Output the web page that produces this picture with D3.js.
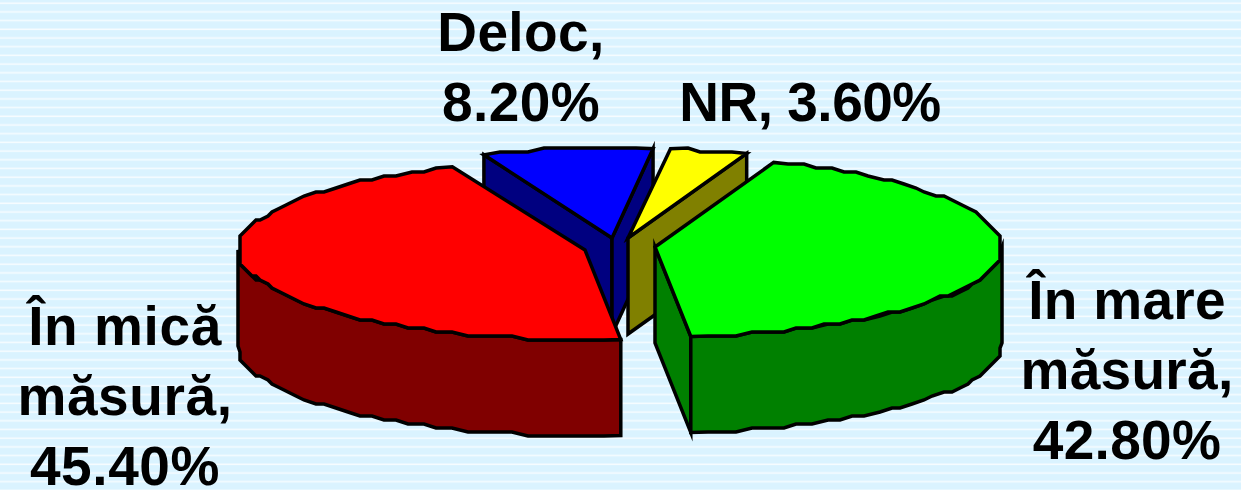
<!DOCTYPE html>
<html><head><meta charset="utf-8">
<style>html,body{margin:0;padding:0;background:#DAF3FF;overflow:hidden}svg{display:block}</style>
<script src="https://cdn.jsdelivr.net/npm/d3@7"></script>
</head><body><svg id="c" width="1241" height="490"></svg>
<script>
const categories = ["În mare măsură", "În mică măsură", "Deloc", "NR"];
const values = [42.8, 45.4, 8.2, 3.6];
const topColors = ["#00FF00", "#FF0000", "#0000FF", "#FFFF00"];
const wallColors = ["#008000", "#800000", "#000080", "#808000"];
const sliceCentres = [[655, 247], [585, 250], [612, 238], [628, 238]];
const sliceRadiusX = [347, 347, 335, 347];
const labelLines = [
  [["În mare"], ["măsură,"], [0]],
  [["În mică"], ["măsură,"], [1]],
  [["Deloc,"], [2]],
  [["NR, ", 3]]
];
const labelPos = [[1127, 319], [125, 345], [521, 51], [810, 121]];
const labelSpacing = [0.3, 0.6, 0.4, -0.5];

const W = 1241, H = 490, RY = 90, DEPTH = 96, GRID = 4;
const svg = d3.select("#c");

// background stripes
const defs = svg.append("defs");
const pat = defs.append("pattern").attr("id", "stripes").attr("patternUnits", "userSpaceOnUse")
  .attr("width", 8).attr("height", 8.7);
pat.append("rect").attr("width", 8).attr("height", 8.7).attr("fill", "#DAF3FF");
pat.append("rect").attr("y", 2.4).attr("width", 8).attr("height", 1.6).attr("fill", "#F6FCFF");
svg.append("rect").attr("width", W).attr("height", H).attr("fill", "url(#stripes)");

// layout via d3.pie, clockwise from 20 degrees past the top
const start = 20 * Math.PI / 180;
const arcs = d3.pie().sort(null).startAngle(start).endAngle(start + 2 * Math.PI)(values);
const sy = d3.scaleLinear().domain([-1, 1]).range([-RY, RY]);
const line = d3.line();
const snap = v => Math.round(v / GRID) * GRID;
const pt = (i, a, d = 0) => {
  const c = sliceCentres[i];
  const sx = d3.scaleLinear().domain([-1, 1]).range([-sliceRadiusX[i], sliceRadiusX[i]]);
  return [c[0] + sx(Math.sin(a)), c[1] - sy(Math.cos(a)) + d];
};
const rough = p => [snap(p[0]), snap(p[1])];
const samples = (a0, a1) => {
  const n = Math.max(2, Math.round(Math.abs(a1 - a0) / (2.6 * Math.PI / 180)));
  return d3.range(0, n + 1).map(k => a0 + (a1 - a0) * k / n);
};
// keep exact corners, roughen only interior arc samples
const arcPts = (i, a0, a1, d = 0) => samples(a0, a1).map((a, k, s) =>
  (k === 0 || k === s.length - 1) ? pt(i, a, d) : rough(pt(i, a, d)));
const draw = (pts, fill) => svg.append("path")
  .attr("d", line(pts) + "Z").attr("fill", fill).attr("stroke", "#000")
  .attr("stroke-width", 3.5).attr("stroke-linejoin", "miter").attr("stroke-miterlimit", 6);

function slice(i) {
  const c = sliceCentres[i], a0 = arcs[i].startAngle, a1 = arcs[i].endAngle, wall = wallColors[i];
  const flat = (p, q) => draw([p, q, [q[0], q[1] + DEPTH], [p[0], p[1] + DEPTH]], wall);
  const P0 = pt(i, a0), P1 = pt(i, a1);
  const outer = (b0, b1) => draw(arcPts(i, b0, b1).concat(arcPts(i, b1, b0, DEPTH)), wall);
  if (i === 0) { flat(c, P1); outer(Math.PI / 2, a1); }
  if (i === 1) { outer(a0, 1.5 * Math.PI); }
  if (i === 2) { flat(P0, c); flat(c, P1); }
  if (i === 3) { flat(c, P1); }
  draw([c].concat(arcPts(i, a0, a1)), topColors[i]);
}
[2, 3, 1, 0].forEach(slice);

// labels
labelLines.forEach((lines, i) => {
  const t = svg.append("text").attr("text-anchor", "middle")
    .attr("font-family", "'Liberation Sans', Arial, sans-serif").attr("font-weight", "bold")
    .attr("font-size", 55).attr("letter-spacing", labelSpacing[i]).attr("fill", "#000");
  lines.forEach((parts, j) => {
    const str = parts.map(p => typeof p === "number" ? values[p].toFixed(2) + "%" : p).join("");
    t.append("tspan").attr("x", labelPos[i][0]).attr("y", labelPos[i][1] + j * 70).text(str);
  });
});
</script></body></html>
